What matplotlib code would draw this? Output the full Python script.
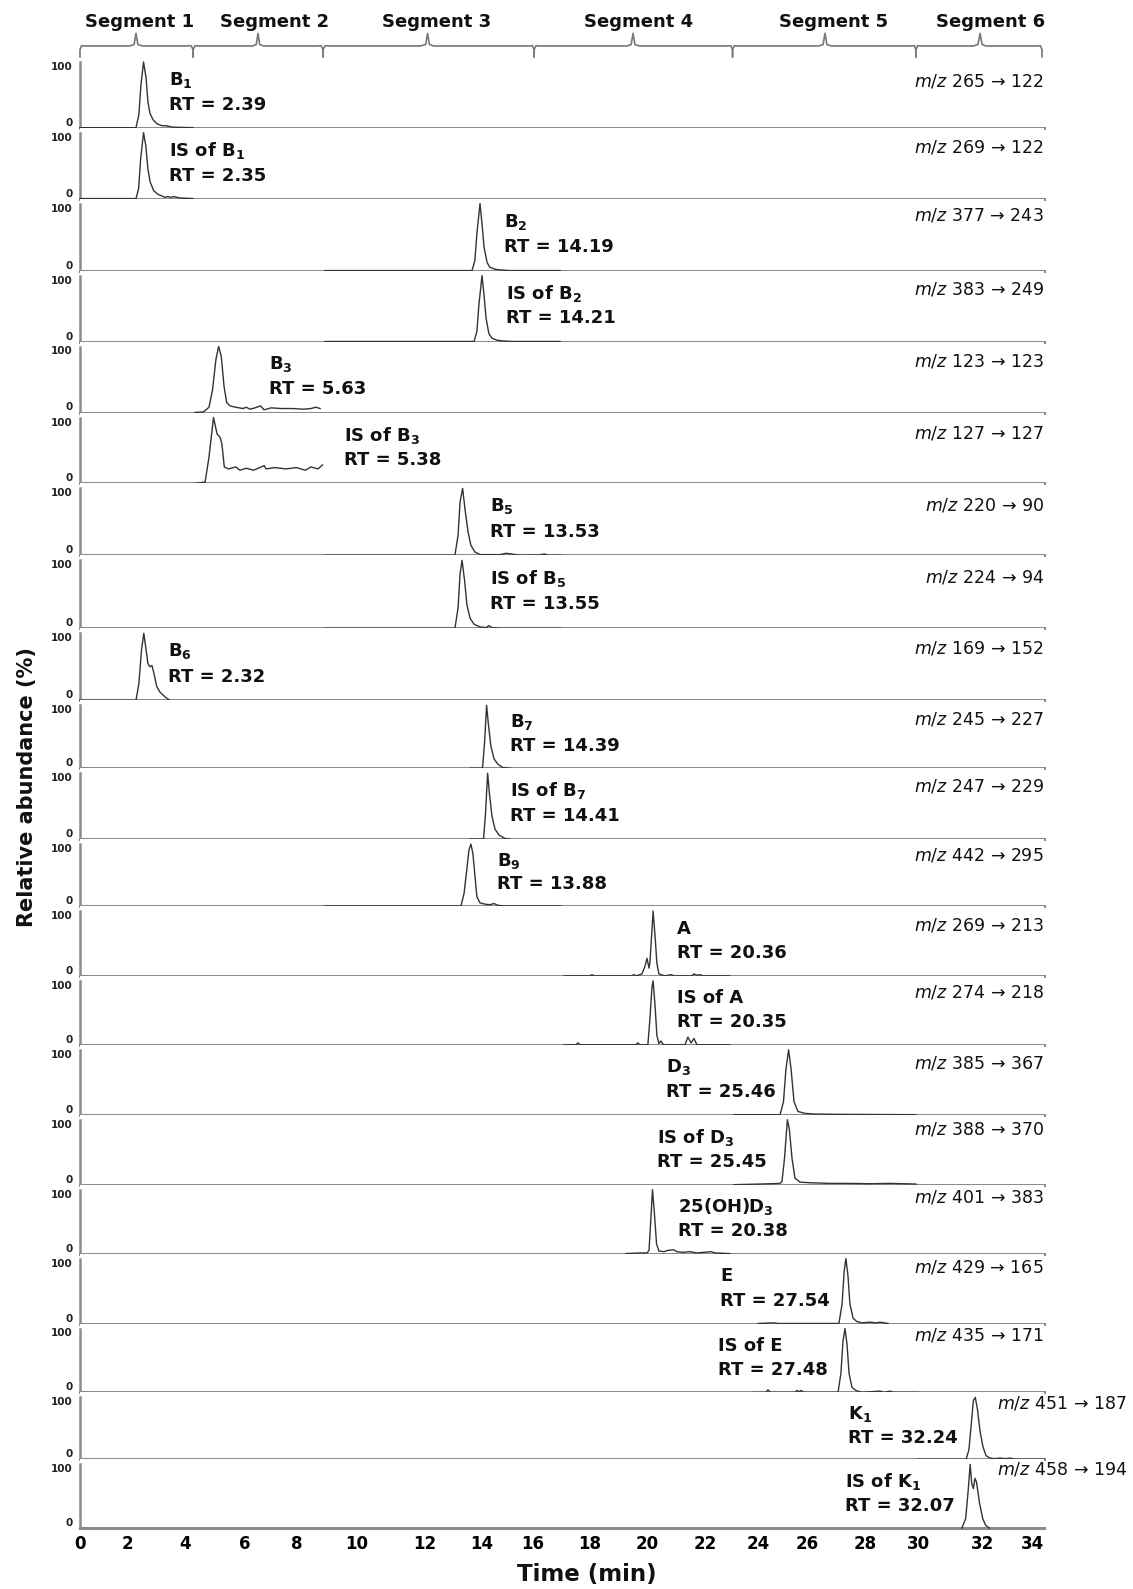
import numpy as np
import matplotlib.pyplot as plt
from matplotlib import transforms

plt.rcParams['font.family'] = ['DejaVu Sans']
plt.rcParams['mathtext.fontset'] = 'dejavusans'
plt.rcParams['mathtext.default'] = 'bf'

# ---- data, panels from top to bottom ----
compounds = ["B$_1$", "IS of B$_1$", "B$_2$", "IS of B$_2$", "B$_3$", "IS of B$_3$",
             "B$_5$", "IS of B$_5$", "B$_6$", "B$_7$", "IS of B$_7$", "B$_9$",
             "A", "IS of A", "D$_3$", "IS of D$_3$", "25(OH)D$_3$", "E", "IS of E",
             "K$_1$", "IS of K$_1$"]
rt_values = ["2.39", "2.35", "14.19", "14.21", "5.63", "5.38", "13.53", "13.55", "2.32",
             "14.39", "14.41", "13.88", "20.36", "20.35", "25.46", "25.45", "20.38",
             "27.54", "27.48", "32.24", "32.07"]
mz_parent = [265, 269, 377, 383, 123, 127, 220, 224, 169, 245, 247, 442,
             269, 274, 385, 388, 401, 429, 435, 451, 458]
mz_product = [122, 122, 243, 249, 123, 127, 90, 94, 152, 227, 229, 295,
              213, 218, 367, 370, 383, 165, 171, 187, 194]

segments = ["Segment 1", "Segment 2", "Segment 3", "Segment 4", "Segment 5", "Segment 6"]
seg_edges = [0, 4.27, 8.87, 16.04, 23.04, 29.92, 34.4]
seg_mid = [2.31, 6.5, 12.09, 19.51, 26.62, 31.94]

x_ticks = [0, 2, 4, 6, 8, 10, 12, 14, 16, 18, 20, 22, 24, 26, 28, 30, 32, 34]

# chromatogram traces (time in min, relative abundance in %)
b1_t = [0, 2.31, 2.41, 2.48, 2.57, 2.66, 2.72, 2.79, 2.90, 3.03, 3.21, 3.34, 3.45, 3.55, 3.76, 4.27]
b1_y = [0, 0, 20, 65, 100, 75, 40, 22, 12, 6, 3, 3, 2, 1, 0.5, 0]
is_b1_t = [0, 2.31, 2.40, 2.47, 2.57, 2.65, 2.72, 2.80, 2.92, 3.05, 3.20, 3.31, 3.40, 3.52, 3.62, 3.80, 4.27]
is_b1_y = [0, 0, 15, 60, 100, 80, 45, 25, 12, 7, 4, 2, 3, 2, 3, 1, 0]
b2_t = [8.93, 13.65, 13.75, 13.82, 13.93, 14.00, 14.08, 14.20, 14.31, 14.51, 14.71, 15.10, 16.95]
b2_y = [0, 0, 15, 55, 100, 70, 35, 12, 5, 2, 1, 0, 0]
is_b2_t = [8.93, 13.72, 13.82, 13.89, 14.00, 14.08, 14.16, 14.27, 14.39, 14.59, 14.78, 15.18, 16.95]
is_b2_y = [0, 0, 15, 55, 100, 70, 35, 12, 5, 2, 1, 0, 0]
b3_t = [4.33, 4.62, 4.80, 4.92, 5.03, 5.12, 5.21, 5.30, 5.39, 5.50, 5.69, 5.93, 6.05, 6.19,
        6.38, 6.60, 6.73, 7.00, 7.42, 7.85, 8.22, 8.46, 8.63, 8.77]
b3_y = [0, 1, 8, 35, 80, 100, 85, 40, 15, 10, 8, 6, 8, 5, 7, 10, 4, 7, 6, 6, 5, 6, 8, 6]
is_b3_t = [4.33, 4.67, 4.80, 4.95, 5.07, 5.17, 5.23, 5.31, 5.45, 5.69, 5.83, 6.05, 6.33, 6.74,
           6.81, 7.15, 7.57, 7.98, 8.28, 8.46, 8.70, 8.85]
is_b3_y = [0, 2, 40, 100, 75, 70, 60, 25, 22, 25, 20, 23, 20, 27, 22, 24, 22, 24, 20, 25, 22, 28]
b5_t = [8.93, 13.05, 13.16, 13.23, 13.32, 13.40, 13.51, 13.61, 13.75, 13.93, 14.71, 14.94, 15.14,
        15.49, 16.25, 16.39, 16.53, 16.98]
b5_y = [0, 0, 30, 80, 100, 70, 35, 15, 5, 1, 1, 3, 2, 0, 0.5, 2, 0, 0]
is_b5_t = [8.93, 13.05, 13.16, 13.23, 13.30, 13.39, 13.47, 13.58, 13.72, 13.93, 14.16, 14.27,
           14.39, 14.71, 16.98]
is_b5_y = [0, 0, 30, 80, 100, 70, 35, 15, 6, 2, 1, 4, 1, 0, 0]
b6_t = [0, 2.31, 2.41, 2.50, 2.58, 2.66, 2.72, 2.79, 2.86, 2.93, 3.03, 3.14, 3.24, 3.34, 3.48]
b6_y = [0, 0, 25, 75, 100, 75, 55, 50, 52, 40, 20, 12, 8, 4, 0]
b7_t = [13.58, 14.02, 14.10, 14.18, 14.25, 14.35, 14.47, 14.63, 14.82, 15.10]
b7_y = [0, 0, 40, 100, 70, 35, 15, 6, 1, 0]
is_b7_t = [13.58, 14.06, 14.14, 14.22, 14.29, 14.39, 14.51, 14.67, 14.90, 15.10]
is_b7_y = [0, 0, 40, 100, 70, 35, 15, 6, 1, 0]
b9_t = [8.93, 13.26, 13.37, 13.47, 13.54, 13.61, 13.68, 13.75, 13.82, 13.93, 14.12, 14.31,
        14.47, 14.63, 14.90, 16.98]
b9_y = [0, 0, 20, 60, 90, 100, 85, 50, 15, 5, 3, 2, 4, 1, 0, 0]
a_t = [17.09, 18.00, 18.07, 18.14, 19.47, 19.54, 19.61, 19.82, 19.93, 20.00, 20.07, 20.10, 20.17,
       20.21, 20.28, 20.34, 20.41, 20.62, 20.83, 20.93, 21.55, 21.62, 21.72, 21.83, 21.93, 22.94]
a_y = [0, 0, 2, 0, 0, 2, 0, 3, 15, 27, 12, 20, 70, 100, 60, 20, 3, 0, 2, 0, 0, 3, 1, 2, 0, 0]
is_a_t = [17.09, 17.51, 17.58, 17.65, 19.61, 19.68, 19.75, 20.03, 20.10, 20.17, 20.21, 20.28,
          20.34, 20.41, 20.48, 20.55, 20.62, 21.31, 21.41, 21.52, 21.62, 21.72, 22.94]
is_a_y = [0, 0, 3, 0, 0, 3, 0, 0, 40, 90, 100, 60, 15, 2, 6, 1, 0, 0, 12, 3, 10, 0, 0]
d3_t = [23.09, 24.90, 25.04, 25.14, 25.25, 25.35, 25.47, 25.63, 25.92, 26.28, 27.14, 29.92]
d3_y = [0, 0, 20, 70, 100, 70, 20, 5, 2, 1, 0.5, 0]
is_d3_t = [23.09, 24.08, 24.90, 24.98, 25.08, 25.20, 25.28, 25.39, 25.51, 25.71, 26.10, 26.79,
           27.48, 28.19, 28.94, 29.92]
is_d3_y = [0, 1, 2, 5, 40, 100, 85, 40, 10, 4, 3, 2, 2, 1.5, 2, 1]
oh_d3_t = [19.26, 19.75, 20.00, 20.07, 20.14, 20.19, 20.26, 20.33, 20.41, 20.59, 20.72, 20.92,
           21.03, 21.24, 21.48, 21.72, 22.23, 22.38, 22.94]
oh_d3_y = [0, 1, 1, 5, 60, 100, 60, 15, 4, 3, 5, 6, 3, 2, 3, 1, 3, 1, 0]
e_t = [24.00, 24.65, 24.82, 27.10, 27.21, 27.28, 27.34, 27.41, 27.48, 27.59, 27.72, 27.90,
       28.19, 28.42, 28.57, 28.87]
e_y = [0, 1, 0, 0, 30, 80, 100, 75, 30, 8, 3, 1, 2, 1, 2, 0]
is_e_t = [23.83, 24.31, 24.41, 24.51, 25.51, 25.59, 25.67, 25.76, 25.88, 27.07, 27.17, 27.24,
          27.31, 27.38, 27.45, 27.55, 27.69, 27.90, 28.57, 28.72, 28.94, 29.09, 30.00]
is_e_y = [0, 0, 4, 0, 0, 3, 1, 3, 0, 0, 30, 80, 100, 75, 30, 8, 3, 0, 2, 0, 2, 0, 0]
k1_t = [30.00, 31.50, 31.59, 31.67, 31.73, 31.79, 31.86, 31.94, 32.04, 32.16, 32.32, 32.52,
        32.72, 32.92, 33.12, 33.32, 34.48]
k1_y = [0, 0, 15, 60, 95, 100, 80, 45, 20, 6, 2, 1, 2, 1, 2, 0, 0]
is_k1_t = [31.37, 31.49, 31.57, 31.63, 31.68, 31.73, 31.78, 31.83, 31.92, 32.03, 32.14, 32.29]
is_k1_y = [0, 15, 60, 100, 70, 62, 78, 72, 40, 15, 5, 0]

traces = [(b1_t, b1_y), (is_b1_t, is_b1_y), (b2_t, b2_y), (is_b2_t, is_b2_y),
          (b3_t, b3_y), (is_b3_t, is_b3_y), (b5_t, b5_y), (is_b5_t, is_b5_y),
          (b6_t, b6_y), (b7_t, b7_y), (is_b7_t, is_b7_y), (b9_t, b9_y),
          (a_t, a_y), (is_a_t, is_a_y), (d3_t, d3_y), (is_d3_t, is_d3_y),
          (oh_d3_t, oh_d3_y), (e_t, e_y), (is_e_t, is_e_y), (k1_t, k1_y), (is_k1_t, is_k1_y)]

# layout: where each compound label starts (min), segment label centres (min)
label_x = [3.45, 3.45, 14.85, 14.94, 6.92, 9.55, 14.31, 14.31, 3.41, 15.10, 15.10, 14.59,
           21.02, 21.02, 20.66, 20.36, 21.06, 22.57, 22.49, 27.43, 27.31]
seg_label_x = [2.45, 7.15, 12.39, 19.72, 26.93, 32.36]

# baseline of each panel and centre of each m/z label, in pixels from the top
zero_px = [127.7, 198.6, 270.6, 341.5, 412.5, 483.4, 555.3, 628.3, 700.3, 768.2, 839.1,
           906.0, 975.9, 1044.8, 1114.7, 1184.7, 1253.6, 1323.5, 1392.4, 1459.3, 1528.2]
mz_px = [82, 148, 216, 290, 362, 433, 505, 577, 649, 720, 787, 855, 925, 993, 1063,
         1129, 1198, 1268, 1336, 1404, 1469]

# the time axis of the original is not evenly spaced: pixel position of each tick
tick_px = [80, 127, 185, 245, 297, 357, 425, 482, 533, 590, 647, 705, 758, 807, 865, 918, 982, 1032]
scale_t = [-40] + x_ticks + [80]
scale_p = [80 - 40 * 23.5] + tick_px + [1032 + 46 * 25]


def fwd(t):
    return np.interp(t, scale_t, scale_p)


def inv(p):
    return np.interp(p, scale_p, scale_t)


W, H = 1133, 1589
fig = plt.figure(figsize=(W / 100, H / 100), dpi=100)


def box(left, top, w, h):
    return [left / W, 1 - (top + h) / H, w / W, h / H]


axis_c = '#8c8c8c'
trace_c = '#333333'
text_c = '#111111'
n = len(compounds)
gap = 5.0

for i in range(n):
    top = 57 if i == 0 else zero_px[i - 1]
    h = zero_px[i] - top
    ax = fig.add_axes(box(80, top, 964, h))
    ax.set_xscale('function', functions=(fwd, inv))
    ax.set_xlim(0, 34.48)
    ax.set_ylim(0, 100 * h / (h - gap))
    px_per_unit = (h - gap) / 100
    t, y = traces[i]
    ax.plot(t, y, color=trace_c, lw=1.0, clip_on=False, zorder=3)

    for s in ['top', 'right']:
        ax.spines[s].set_visible(False)
    ax.spines['left'].set_bounds(0, 100)
    ax.spines['left'].set_color(axis_c)
    ax.spines['left'].set_linewidth(1.8)
    ax.spines['bottom'].set_color(axis_c)
    ax.spines['bottom'].set_linewidth(2.2)

    ax.set_yticks([0, 100])
    ax.set_yticklabels(['0', '100'], fontsize=7.5, fontweight='bold', color='#222222')
    ylabs = ax.get_yticklabels()
    ylabs[0].set_va('bottom')
    ylabs[1].set_va('top')
    ax.tick_params(axis='y', length=0, pad=5)
    ax.xaxis.set_minor_locator(plt.NullLocator())
    if i < n - 1:
        ax.set_xticks([])
    else:
        ax.set_xticks(x_ticks)
        ax.set_xticklabels([str(v) for v in x_ticks], fontsize=12, fontweight='bold')
        ax.tick_params(axis='x', length=0, pad=5)

    # compound name and retention time
    ax.text(label_x[i], 73, compounds[i], fontsize=13, fontweight='bold',
            color=text_c, va='center', ha='left')
    ax.text(label_x[i], 35, "RT = " + rt_values[i], fontsize=13, fontweight='bold',
            color=text_c, va='center', ha='left')

    # transition label
    trans = transforms.blended_transform_factory(ax.transAxes, ax.transData)
    mz = r"$\mathit{m/z}$ " + f"{mz_parent[i]} \u2192 {mz_product[i]}"
    mz_y = (zero_px[i] - mz_px[i]) / px_per_unit
    if i >= n - 2:
        ax.text(0.951, mz_y, mz, transform=trans, fontsize=12.5, color=text_c,
                ha='left', va='center', clip_on=False)
    else:
        ax.text(1.0, mz_y, mz, transform=trans, fontsize=12.5, color=text_c,
                ha='right', va='center', clip_on=False)

# segment braces on top
seg_ax = fig.add_axes(box(80, 28, 964, 30))
seg_ax.set_xscale('function', functions=(fwd, inv))
seg_ax.set_xlim(0, 34.48)
seg_ax.set_ylim(0, 1)
seg_ax.axis('off')
d = 0.22
for k in range(len(segments)):
    a, b, c = seg_edges[k], seg_edges[k + 1], seg_mid[k]
    xs = [a, a, a + d * 0.3, a + d, c - d, c - d * 0.3, c, c + d * 0.3, c + d,
          b - d, b - d * 0.3, b, b]
    ys = [0.04, 0.28, 0.41, 0.40, 0.40, 0.45, 0.82, 0.45, 0.40, 0.40, 0.41, 0.28, 0.04]
    seg_ax.plot(xs, ys, color='#777777', lw=1.2, clip_on=False)
    seg_ax.text(seg_label_x[k], 1.21, segments[k], fontsize=13, fontweight='bold',
                color=text_c, ha='center', va='center', clip_on=False)

fig.text(27 / W, 1 - 787 / H, 'Relative abundance (%)', rotation=90, fontsize=15,
         fontweight='bold', color=text_c, ha='center', va='center')
fig.text(587 / W, 1 - 1574 / H, 'Time (min)', fontsize=16.5, fontweight='bold',
         color=text_c, ha='center', va='center')

fig.savefig('out.png', dpi=100)
